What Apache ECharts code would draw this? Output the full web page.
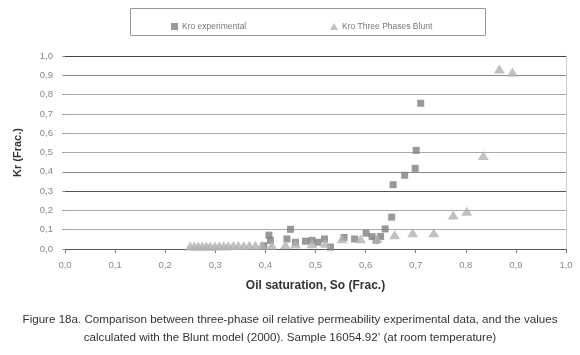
<!DOCTYPE html>
<html>
<head>
<meta charset="utf-8">
<script src="https://cdn.jsdelivr.net/npm/echarts@6/dist/echarts.min.js"></script>
<style>
  html, body { margin: 0; padding: 0; background: #fff; }
  #chart { width: 580px; height: 355px; }
</style>
</head>
<body>
<div id="chart"></div>
<script>
// Kro experimental (So, Kr)
var expSo = [0.397, 0.407, 0.41, 0.443, 0.45, 0.46, 0.48, 0.493, 0.505, 0.518, 0.53, 0.557, 0.578, 0.601, 0.613, 0.621, 0.63, 0.639, 0.652, 0.655, 0.678, 0.699, 0.701, 0.71]
var expKr = [0.017, 0.072, 0.045, 0.052, 0.102, 0.035, 0.04, 0.045, 0.035, 0.052, 0.01, 0.06, 0.052, 0.082, 0.064, 0.045, 0.065, 0.104, 0.165, 0.333, 0.382, 0.418, 0.511, 0.755]
// Kro Three Phases Blunt (So, Kr)
var bluntSo = [0.25, 0.258, 0.266, 0.274, 0.282, 0.29, 0.299, 0.308, 0.317, 0.326, 0.336, 0.346, 0.357, 0.368, 0.38, 0.393,
    0.413, 0.44, 0.46, 0.493, 0.52, 0.553, 0.59, 0.623, 0.658, 0.694, 0.736, 0.775, 0.802, 0.835, 0.867, 0.893]
var bluntKr = [0.015, 0.015, 0.015, 0.015, 0.016, 0.016, 0.016, 0.017, 0.017, 0.017, 0.018, 0.018, 0.018, 0.019, 0.019, 0.02,
    0.02, 0.022, 0.026, 0.027, 0.03, 0.053, 0.053, 0.055, 0.074, 0.084, 0.084, 0.176, 0.195, 0.485, 0.932, 0.917]

var xTitle = 'Oil saturation, So (Frac.)'
var yTitle = 'Kr (Frac.)'
var caption1 = 'Figure 18a. Comparison between three-phase oil relative permeability experimental data, and the values'
var caption2 = 'calculated with the Blunt model (2000). Sample 16054.92\u2019 (at room temperature)'

function pairs (xs, ys) {
    return xs.map(function (x, i) { return [x, ys[i]] })
}
// 逗号小数
function comma (v) {
    return v.toFixed(1).replace('.', ',')
}

var font = 'Liberation Sans'
var myChart = echarts.init(document.getElementById('chart'))
myChart.setOption({
    animation: false,
    textStyle: { fontFamily: font },
    grid: { left: 65, right: 14, top: 56, bottom: 106 },
    legend: [
        {
            data: ['Kro experimental'],
            left: 166, top: 17,
            itemWidth: 7, itemHeight: 7, itemGap: 0,
            textStyle: { fontSize: 8.5, color: '#777', fontFamily: font, padding: [0, 0, 0, -1] }
        },
        {
            data: ['Kro Three Phases Blunt'],
            left: 325, top: 17,
            itemWidth: 8, itemHeight: 7, itemGap: 0,
            textStyle: { fontSize: 8.5, color: '#777', fontFamily: font, padding: [0, 0, 0, -1] }
        }
    ],
    xAxis: {
        type: 'value',
        min: 0, max: 1, interval: 0.1,
        name: xTitle,
        nameLocation: 'middle',
        nameGap: 31,
        nameTextStyle: { fontSize: 12, fontWeight: 'bold', color: '#333', fontFamily: font },
        axisLine: { show: true, lineStyle: { color: '#555', width: 1 } },
        axisTick: { show: true, length: 4, lineStyle: { color: '#777' } },
        axisLabel: { fontSize: 9.5, color: '#888', margin: 11, formatter: comma },
        splitLine: { show: false }
    },
    yAxis: [
        {
            type: 'value',
            min: 0, max: 1, interval: 0.1,
            name: yTitle,
            nameLocation: 'middle',
            nameGap: 42,
            nameTextStyle: { fontSize: 11, fontWeight: 'bold', color: '#333', fontFamily: font },
            axisLine: { show: false },
            axisTick: { show: true, length: 3, lineStyle: { color: '#999' } },
            axisLabel: { fontSize: 9.5, color: '#888', margin: 12, formatter: comma },
            splitLine: {
                show: true,
                lineStyle: {
                    color: ['#555', '#aaa', '#aaa', '#555', '#888', '#aaa', '#aaa', '#aaa', '#aaa', '#888', '#444'],
                    width: 1
                }
            }
        },
        {
            // 右侧边框线
            type: 'value',
            position: 'right',
            min: 0, max: 1, interval: 0.1,
            axisLine: { show: true, lineStyle: { color: '#ccc' } },
            axisTick: { show: false },
            axisLabel: { show: false },
            splitLine: { show: false }
        }
    ],
    graphic: [
        {
            type: 'rect',
            shape: { x: 130.5, y: 8.5, width: 355, height: 27 },
            style: { fill: 'none', stroke: '#999', lineWidth: 1 },
            silent: true
        },
        {
            type: 'text',
            left: 'center', top: 314,
            style: { text: caption1, font: '11.6px "Liberation Sans"', fill: '#333' }
        },
        {
            type: 'text',
            left: 'center', top: 332,
            style: { text: caption2, font: '11.6px "Liberation Sans"', fill: '#333' }
        }
    ],
    series: [
        {
            name: 'Kro experimental',
            type: 'scatter',
            symbol: 'rect',
            symbolSize: 7,
            itemStyle: { color: '#808080' },
            data: pairs(expSo, expKr)
        },
        {
            name: 'Kro Three Phases Blunt',
            type: 'scatter',
            symbol: 'triangle',
            symbolSize: [11, 9],
            itemStyle: { color: '#b2b2b2' },
            data: pairs(bluntSo, bluntKr)
        }
    ]
})
</script>
</body>
</html>
